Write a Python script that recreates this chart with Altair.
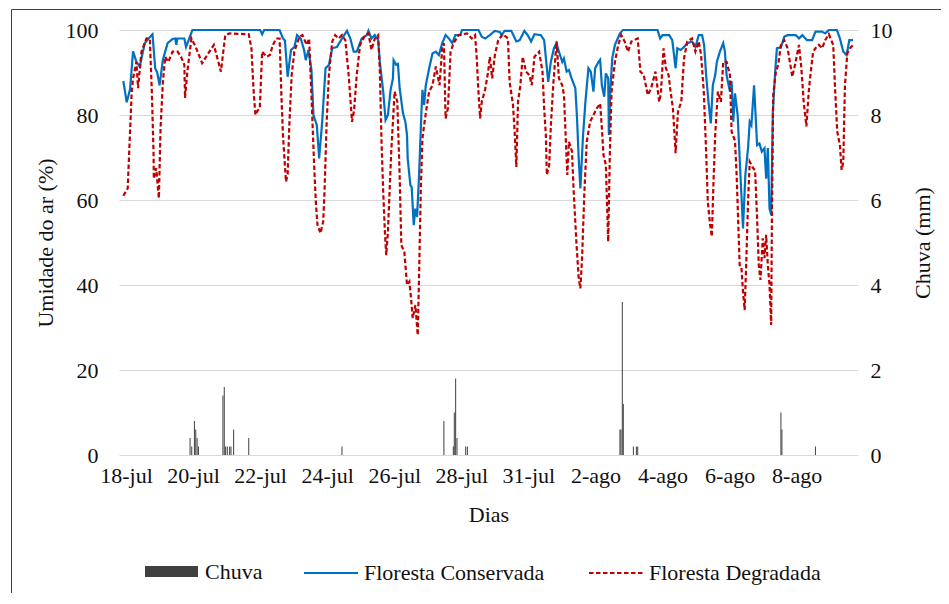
import altair as alt
import pandas as pd

FONT = "Liberation Serif, Times New Roman, Times, serif"
TXT = "#111111"

# X axis: position in days from 18-jul, tick labels every 2 positions
rotulos_x = ["18-jul", "20-jul", "22-jul", "24-jul", "26-jul", "28-jul",
             "31-jul", "2-ago", "4-ago", "6-ago", "8-ago"]
posicoes_x = [0, 2, 4, 6, 8, 10, 12, 14, 16, 18, 20]
umid_ticks = [0, 20, 40, 60, 80, 100]
chuva_ticks = [0, 2, 4, 6, 8, 10]

# (day, relative humidity %) - Floresta Conservada
conservada = [
    (-0.08, 88), (0.02, 83), (0.12, 86), (0.21, 95), (0.31, 92.5), (0.41, 91.4), (0.56, 96.9),
    (0.66, 97.9), (0.79, 99), (0.87, 91), (0.93, 90), (1.00, 87), (1.10, 93), (1.24, 96.9),
    (1.39, 97.9), (1.47, 98), (1.50, 96.5), (1.53, 98), (1.74, 98), (1.79, 96), (1.98, 100),
    (4.00, 100), (4.06, 99), (4.12, 100), (4.58, 100), (4.68, 98), (4.74, 97.5), (4.82, 89),
    (4.92, 95.3), (5.02, 96), (5.10, 98.8), (5.21, 98), (5.31, 95.3), (5.36, 92.9), (5.44, 95.3),
    (5.53, 90.6), (5.59, 80), (5.69, 77.6), (5.76, 69.8), (5.85, 78.4), (5.95, 91), (6.05, 91.8),
    (6.15, 95.7), (6.29, 96), (6.44, 98), (6.59, 99.8), (6.69, 98), (6.79, 94.9), (6.88, 94.9),
    (7.03, 98), (7.18, 98.8), (7.23, 99.8), (7.32, 98), (7.42, 98.8), (7.52, 97.6), (7.57, 92.5),
    (7.67, 85.5), (7.74, 78.8), (7.81, 80), (7.89, 85.9), (7.96, 88.6), (7.98, 92.9), (8.06, 91.8),
    (8.11, 92), (8.16, 86.3), (8.26, 80.4), (8.33, 78.4), (8.38, 75.3), (8.40, 69.8), (8.48, 63.5),
    (8.52, 63), (8.58, 54.1), (8.63, 58), (8.68, 56), (8.74, 65.9), (8.81, 80.8), (8.84, 85.9),
    (8.89, 82.4), (8.94, 87), (9.04, 91), (9.14, 94.5), (9.24, 94.9), (9.33, 94.1), (9.43, 96.9),
    (9.53, 98.8), (9.63, 98), (9.73, 96.9), (9.82, 98.8), (9.97, 98.8), (10.02, 100), (10.51, 100),
    (10.61, 98.4), (10.71, 98), (10.85, 98.8), (11.00, 99.8), (11.15, 99.5), (11.20, 98.8),
    (11.29, 99.8), (11.49, 99.8), (11.64, 97.3), (11.74, 97.6), (11.88, 99.8), (11.98, 98.8),
    (12.08, 97.3), (12.18, 99), (12.37, 98.8), (12.47, 97.6), (12.59, 87.8), (12.67, 92.5),
    (12.76, 95.7), (12.84, 96.9), (12.91, 94.9), (13.01, 92.5), (13.06, 93.3), (13.14, 90.2),
    (13.21, 90.6), (13.27, 89), (13.40, 86.3), (13.45, 79.2), (13.50, 69.8), (13.55, 62.7),
    (13.63, 75.3), (13.70, 83.1), (13.79, 91), (13.86, 90.2), (13.94, 85.5), (13.99, 91),
    (14.09, 92.5), (14.14, 93), (14.19, 87), (14.26, 84.3), (14.31, 89.8), (14.38, 88.6),
    (14.40, 75.3), (14.44, 85.5), (14.50, 93.3), (14.58, 96.5), (14.73, 99.2), (14.82, 100),
    (15.85, 100), (15.93, 98), (16.00, 98.8), (16.20, 98.8), (16.29, 97.6), (16.39, 91),
    (16.44, 95.7), (16.54, 95.3), (16.64, 96), (16.74, 96.9), (16.88, 97.3), (16.98, 96),
    (17.08, 98.8), (17.18, 98.8), (17.24, 96.5), (17.30, 89.4), (17.37, 83.1), (17.44, 78),
    (17.50, 87), (17.57, 89.4), (17.62, 92.5), (17.71, 94.9), (17.81, 96.9), (17.86, 94.9),
    (17.91, 89.4), (18.01, 85.5), (18.06, 88), (18.11, 78.4), (18.16, 85.1), (18.24, 80),
    (18.30, 69.8), (18.40, 53.3), (18.47, 65.9), (18.55, 72.2), (18.60, 78.4), (18.65, 77.6),
    (18.73, 87), (18.79, 77.6), (18.82, 72.9), (18.89, 73.3), (18.96, 71.4), (19.04, 72.2),
    (19.09, 65), (19.14, 72.2), (19.19, 58), (19.24, 56.5), (19.29, 80.8), (19.36, 90.2),
    (19.41, 95.7), (19.53, 95.9), (19.63, 98.4), (19.73, 98.8), (19.97, 98.8), (20.07, 98),
    (20.17, 98.8), (20.31, 97.6), (20.46, 97.6), (20.56, 99.6), (20.76, 99.6), (20.85, 99.2),
    (20.96, 100), (21.20, 100), (21.29, 98), (21.39, 94.9), (21.49, 94.1), (21.57, 97.6),
    (21.68, 97.6),
]

# (day, relative humidity %) - Floresta Degradada
degradada = [
    (-0.08, 61), (0.05, 62.7), (0.17, 85.5), (0.21, 88.6), (0.31, 92.5), (0.36, 86.3), (0.46, 94.9),
    (0.61, 98), (0.71, 97.9), (0.77, 85.5), (0.82, 71.4), (0.83, 65), (0.90, 67.5), (0.98, 60.4),
    (1.03, 76.9), (1.10, 87.8), (1.17, 93.7), (1.26, 92.5), (1.39, 94.9), (1.54, 94.9), (1.64, 93.7),
    (1.74, 91.8), (1.76, 84), (1.83, 90.2), (1.95, 98), (2.08, 96), (2.27, 92.2), (2.42, 94.1),
    (2.62, 96.5), (2.83, 90.2), (2.96, 98.8), (3.09, 99.2), (3.66, 99), (3.74, 95.7), (3.79, 87.8),
    (3.82, 84), (3.86, 80), (3.92, 81), (3.99, 81.6), (4.06, 94.9), (4.19, 93.7), (4.29, 94.1),
    (4.38, 96.5), (4.48, 98), (4.58, 98), (4.63, 85.5), (4.68, 75.3), (4.77, 64.3), (4.82, 66),
    (4.87, 77.6), (4.94, 89.4), (5.02, 94.9), (5.17, 98.4), (5.26, 98.8), (5.39, 96.5), (5.46, 98),
    (5.51, 88.6), (5.56, 78.4), (5.61, 68.2), (5.66, 59.6), (5.71, 54.1), (5.80, 52.2), (5.88, 54.9),
    (5.92, 62), (5.98, 77.6), (6.05, 89.4), (6.15, 97.3), (6.24, 98.8), (6.34, 98), (6.44, 98.8),
    (6.54, 97.6), (6.64, 89.4), (6.74, 78.4), (6.80, 81), (6.88, 89.4), (6.98, 96.5), (7.13, 98.8),
    (7.23, 99.2), (7.32, 95.3), (7.42, 98), (7.52, 98.8), (7.57, 90.2), (7.62, 73.7), (7.67, 62),
    (7.72, 52.5), (7.76, 47), (7.81, 52.5), (7.91, 71.4), (8.01, 85.5), (8.09, 83.1), (8.16, 65.9),
    (8.21, 49.4), (8.30, 47.8), (8.38, 40), (8.45, 40.8), (8.50, 36.9), (8.55, 32.2), (8.63, 35.3),
    (8.70, 28.2), (8.74, 42.4), (8.79, 62), (8.84, 74.5), (8.89, 77.6), (8.97, 82), (9.04, 85.5),
    (9.14, 87), (9.24, 91.4), (9.35, 87), (9.43, 95.7), (9.48, 96.9), (9.53, 79.2), (9.60, 81.6),
    (9.68, 94.9), (9.77, 96.9), (9.92, 98.8), (10.17, 99.2), (10.31, 98), (10.41, 98.8),
    (10.46, 93.3), (10.51, 85.5), (10.56, 79.2), (10.61, 83.1), (10.71, 86), (10.80, 90.2),
    (10.85, 93.7), (10.92, 88.6), (11.00, 94.1), (11.10, 97.6), (11.24, 99), (11.39, 98),
    (11.44, 87.8), (11.54, 82.4), (11.59, 76.1), (11.64, 67.8), (11.69, 83.1), (11.76, 87),
    (11.83, 93.7), (11.93, 90.2), (12.03, 89.4), (12.10, 87), (12.18, 93.7), (12.32, 94.9),
    (12.42, 90.2), (12.47, 81.6), (12.52, 75.3), (12.55, 65.9), (12.62, 68.2), (12.67, 77.6),
    (12.74, 87), (12.84, 97.3), (12.91, 88.6), (13.01, 87), (13.06, 84.7), (13.11, 75.3),
    (13.16, 65.9), (13.21, 73.7), (13.30, 71.4), (13.35, 62), (13.43, 50.2), (13.50, 41.6),
    (13.55, 39.2), (13.60, 46.3), (13.67, 62), (13.74, 73.7), (13.84, 78.4), (13.94, 80),
    (14.04, 81.6), (14.14, 82.7), (14.19, 77), (14.24, 70.6), (14.31, 68.2), (14.38, 50.2),
    (14.43, 71.4), (14.48, 85.5), (14.58, 92.5), (14.68, 96.5), (14.77, 98.8), (14.87, 97.3),
    (14.97, 94.9), (15.07, 97.3), (15.26, 98), (15.34, 90.2), (15.44, 89.4), (15.56, 84.7),
    (15.66, 86.3), (15.79, 90.2), (15.90, 83.1), (15.95, 85), (16.03, 95.7), (16.10, 91),
    (16.18, 89.4), (16.24, 85.5), (16.31, 81.6), (16.39, 71), (16.46, 80.8), (16.56, 83.1),
    (16.64, 93.3), (16.74, 97.3), (16.88, 98), (16.98, 94.9), (17.08, 97.3), (17.15, 94.1),
    (17.23, 85.5), (17.30, 71.4), (17.35, 59.6), (17.42, 54.1), (17.47, 51.4), (17.52, 64.3),
    (17.57, 75.3), (17.65, 85.5), (17.74, 83.1), (17.81, 92.5), (17.91, 92.5), (18.01, 89.4),
    (18.06, 76.1), (18.11, 75), (18.16, 74), (18.21, 65.9), (18.26, 54.1), (18.30, 44.7),
    (18.35, 44.4), (18.40, 38.4), (18.45, 34.1), (18.50, 46.3), (18.55, 59.6), (18.60, 69),
    (18.70, 67.5), (18.76, 67), (18.82, 55.7), (18.87, 44.7), (18.92, 41.2), (18.99, 51),
    (19.04, 46.3), (19.09, 51.8), (19.14, 44.7), (19.19, 40), (19.24, 30.6), (19.26, 54.1),
    (19.30, 84.7), (19.38, 90.2), (19.45, 91.8), (19.53, 96.5), (19.63, 97.6), (19.73, 95.7),
    (19.87, 89), (19.97, 92.5), (20.07, 96.5), (20.14, 91), (20.21, 83.1), (20.29, 77.3),
    (20.36, 85.5), (20.41, 89.4), (20.49, 94.9), (20.56, 95.7), (20.66, 96.5), (20.76, 95.7),
    (20.85, 97.6), (20.96, 99), (21.09, 96.5), (21.15, 85.5), (21.21, 76.1), (21.29, 72.9),
    (21.34, 67.1), (21.39, 69), (21.44, 87), (21.51, 94.5), (21.59, 95.7), (21.68, 96.5),
]

# (day, rain mm)
chuva = [
    (1.91, 0.4), (1.96, 0.2), (2.04, 0.8), (2.08, 0.6), (2.12, 0.4), (2.16, 0.2),
    (2.89, 1.4), (2.93, 1.6), (2.97, 0.2), (3.02, 0.2), (3.09, 0.2), (3.13, 0.2), (3.21, 0.6),
    (3.66, 0.4), (6.44, 0.2), (9.48, 0.8), (9.76, 0.2), (9.79, 1.0), (9.83, 1.8), (9.87, 0.4),
    (10.13, 0.2), (10.18, 0.2), (14.73, 0.6), (14.76, 0.6), (14.80, 3.6), (14.83, 1.2),
    (15.13, 0.2), (15.22, 0.2), (15.26, 0.2), (19.53, 1.0), (19.56, 0.6), (20.56, 0.2),
]

series_linhas = ["Floresta Conservada", "Floresta Degradada"]
cores_linhas = ["#0070C0", "#C00000"]

df_lines = pd.DataFrame(
    [{"dia": d, "umidade": v, "serie": series_linhas[0]} for d, v in conservada]
    + [{"dia": d, "umidade": v, "serie": series_linhas[1]} for d, v in degradada]
)
df_chuva = pd.DataFrame([{"dia": d, "mm": v, "serie": "Chuva"} for d, v in chuva])

W, H = 739, 425

label_expr = "[" + ",".join(f"'{r}'" for r in rotulos_x) + "][round(datum.value/2)]"
xscale = alt.Scale(domain=[-0.06, 21.68], nice=False, zero=False)
xaxis = alt.Axis(
    values=posicoes_x, labelExpr=label_expr, title="Dias", grid=False, domain=False,
    ticks=False, labelPadding=10, titlePadding=18, labelFontSize=22, titleFontSize=22,
    titleFontWeight="normal", labelFont=FONT, titleFont=FONT, labelColor=TXT,
    titleColor=TXT, labelFlush=False, labelOverlap=False,
)

legenda_linhas = alt.Legend(
    title=None, orient="none", legendX=184, legendY=515, direction="horizontal",
    columns=2, symbolType="M-1,0L1,0", symbolSize=2916, symbolStrokeWidth=2,
    labelFontSize=22, labelFont=FONT, labelColor=TXT, labelOffset=5, columnPadding=40,
    labelLimit=0,
)

borda = alt.Chart(pd.DataFrame({"k": [0]})).mark_rect(
    fillOpacity=0, stroke="#404040", strokeWidth=1
).encode(
    x=alt.value(-107.5), x2=alt.value(W + 300), y=alt.value(-20.5), y2=alt.value(H + 400)
)

barras = alt.Chart(df_chuva).mark_bar(size=1.0).encode(
    x=alt.X("dia:Q", scale=xscale, axis=xaxis),
    y=alt.Y(
        "mm:Q", scale=alt.Scale(domain=[0, 10], nice=False),
        axis=alt.Axis(
            orient="right", values=chuva_ticks, title="Chuva (mm)", grid=False,
            domain=False, ticks=False, labelPadding=12, titlePadding=42, titleAngle=270,
            labelFontSize=22, titleFontSize=22, titleFontWeight="normal", labelFont=FONT,
            titleFont=FONT, labelColor=TXT, titleColor=TXT,
        ),
    ),
    fill=alt.Fill(
        "serie:N", scale=alt.Scale(domain=["Chuva"], range=["#404040"]),
        legend=alt.Legend(
            title=None, orient="none", legendX=26, legendY=515,
            symbolType="M-1,-0.2075L1,-0.2075L1,0.2075L-1,0.2075Z", symbolSize=2809,
            symbolStrokeWidth=0, labelFontSize=22, labelFont=FONT, labelColor=TXT,
            labelOffset=7, labelLimit=0,
        ),
    ),
)

linhas = alt.Chart(df_lines).mark_line(strokeWidth=2.2).encode(
    x=alt.X("dia:Q", scale=xscale, axis=xaxis),
    y=alt.Y(
        "umidade:Q", scale=alt.Scale(domain=[0, 100], nice=False),
        axis=alt.Axis(
            orient="left", values=umid_ticks, title="Umidade do ar (%)", grid=True,
            gridColor="#d9d9d9", gridWidth=1, domain=False, ticks=False, labelPadding=21,
            titlePadding=8, labelFontSize=22, titleFontSize=22, titleFontWeight="normal",
            labelFont=FONT, titleFont=FONT, labelColor=TXT, titleColor=TXT,
        ),
    ),
    color=alt.Color(
        "serie:N", scale=alt.Scale(domain=series_linhas, range=cores_linhas),
        legend=legenda_linhas,
    ),
    strokeDash=alt.StrokeDash(
        "serie:N", scale=alt.Scale(domain=series_linhas, range=[[1, 0], [4.5, 2.5]]),
        legend=legenda_linhas,
    ),
    order=alt.Order("dia:Q"),
)

chart = (
    alt.layer(borda, barras, linhas)
    .resolve_scale(y="independent")
    .properties(
        width=W, height=H,
        autosize=alt.AutoSizeParams(type="none"),
        padding={"left": 111, "top": 22, "right": 83, "bottom": 138},
        background="white",
    )
    .configure(font=FONT)
    .configure_view(stroke=None)
)

chart.save("out.html", embed_options={"renderer": "svg", "actions": False})
